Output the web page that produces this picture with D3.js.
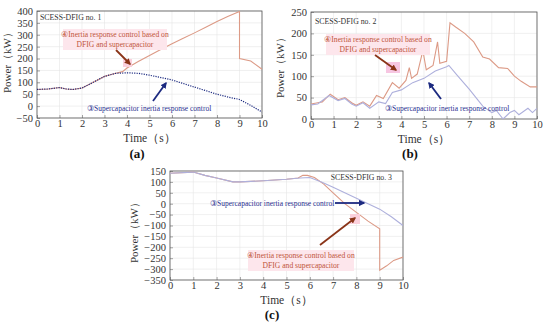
<!DOCTYPE html>
<html><head><meta charset="utf-8">
<script src="https://cdn.jsdelivr.net/npm/d3@7"></script>
<style>body{margin:0;background:#fff}svg{display:block}svg text{font-family:"Liberation Serif","Times New Roman","DejaVu Serif",serif}</style>
</head><body>
<svg id="c" width="550" height="326"></svg>
<script>
// ---------- DATA ----------
const timeTicks = [0,1,2,3,4,5,6,7,8,9,10];
const yTicksA = [-50,0,50,100,150,200,250,300,350,400];
const yTicksB = [0,50,100,150,200,250];
const yTicksC = [-350,-300,-250,-200,-150,-100,-50,0,50,100,150];

// (a) SCESS-DFIG no.1
const aSupT = [0,0.5,1,1.3,1.6,2,2.5,3,3.5,4,4.5,5,5.5,6,6.5,7,7.5,8,8.5,9,9.5,10];
const aSupP = [70,72,78,72,70,76,100,125,138,140,138,130,120,110,95,80,65,50,38,28,3,-25];
const aCombT = [0,0.5,1,1.3,1.6,2,2.5,3,3.5,3.8,4,4.5,5,5.5,6,6.5,7,7.5,8,8.5,9,9.001,9.5,10];
const aCombP = [70,72,78,72,70,76,100,125,138,145,160,188,213,238,262,285,308,332,356,378,398,200,190,155];

// (b) SCESS-DFIG no.2
const bSupT = [0,0.3,0.8,1.2,1.5,1.8,2,2.3,2.6,3,3.3,3.6,4,4.5,5,5.5,6,6.1,6.5,7,7.3,7.6,8,8.2,8.5,8.8,9,9.2,9.6,9.8,10];
const bSupP = [33,35,55,43,48,35,30,38,25,40,36,62,68,85,95,112,122,125,100,70,50,30,15,20,0,15,20,10,25,15,25];
const bCombT = [0,0.3,0.5,0.85,1.2,1.5,1.8,2,2.3,2.6,2.9,3.2,3.6,3.9,4.2,4.35,4.45,4.7,4.95,5.1,5.4,5.6,5.7,6.0,6.15,6.4,6.8,7.2,7.6,7.9,8.3,8.7,9.0,9.3,9.7,10];
const bCombP = [35,38,40,58,45,50,38,32,40,30,55,48,85,72,90,120,95,105,160,115,125,180,130,135,225,215,200,180,145,140,120,118,100,88,75,75];

// (c) SCESS-DFIG no.3
const cSupT = [0,1,1.5,2,2.7,3,4,5,5.6,6,6.5,7,7.5,8,8.5,9,9.5,10];
const cSupP = [140,145,130,118,100,100,105,112,118,120,100,75,50,25,0,-25,-60,-100];
const cCombT = [0,1,1.5,2,2.7,3,4,5,5.5,5.7,5.9,6.2,6.6,7,7.5,8,8.5,9,9.001,9.3,9.6,10];
const cCombP = [140,145,130,118,100,100,105,112,118,130,130,120,90,50,0,-40,-80,-115,-305,-285,-260,-245];

// ---------- DRAW ----------
const svg = d3.select("#c");
const orange = "#dc9a86";
const navy = "#1c2a80";
const lav = "#aeb0dc";

function zip(t,p){ return t.map((d,i)=>[d,p[i]]); }

function panel(o){
  const x = d3.scaleLinear().domain([0,10]).range([o.x0,o.x1]);
  const y = d3.scaleLinear().domain(o.yd).range([o.y1,o.y0]);
  const g = svg.append("g");
  g.append("g").selectAll("line").data(timeTicks).join("line")
    .attr("x1",d=>x(d)).attr("x2",d=>x(d)).attr("y1",o.y0).attr("y2",o.y1)
    .attr("stroke","#e6e6e6").attr("stroke-width",0.6);
  g.append("g").selectAll("line").data(o.yt).join("line")
    .attr("y1",d=>y(d)).attr("y2",d=>y(d)).attr("x1",o.x0).attr("x2",o.x1)
    .attr("stroke","#e6e6e6").attr("stroke-width",0.6);
  const ax = g.append("g").attr("transform",`translate(0,${o.y1})`)
    .call(d3.axisBottom(x).tickValues(timeTicks).tickSize(-3).tickPadding(2).tickFormat(d3.format("d")));
  const ay = g.append("g").attr("transform",`translate(${o.x0},0)`)
    .call(d3.axisLeft(y).tickValues(o.yt).tickSize(-3).tickPadding(4).tickFormat(d=>d<0?"\u2212"+(-d):d));
  [ax,ay].forEach(a=>{
    a.attr("font-family",null);
    a.selectAll("text").attr("font-size",10.5).attr("fill","#333");
    a.selectAll("line").attr("stroke","#666").attr("stroke-width",0.6);
    a.select(".domain").remove();
  });
  g.append("rect").attr("x",o.x0).attr("y",o.y0).attr("width",o.x1-o.x0).attr("height",o.y1-o.y0)
    .attr("fill","none").attr("stroke","#555").attr("stroke-width",0.8);
  const line = d3.line().x(d=>x(d[0])).y(d=>y(d[1]));
  const clip = "clip"+o.id;
  g.append("clipPath").attr("id",clip).append("rect")
    .attr("x",o.x0).attr("y",o.y0).attr("width",o.x1-o.x0).attr("height",o.y1-o.y0);
  const lg = g.append("g").attr("clip-path",`url(#${clip})`);
  o.series.forEach(s=>{
    lg.append("path").datum(zip(s.t,s.p)).attr("d",line).attr("fill","none")
      .attr("stroke",s.c).attr("stroke-width",s.w||1.1).attr("stroke-dasharray",s.dash||null);
  });
  g.append("text").attr("x",(o.x0+o.x1)/2).attr("y",o.y1+24).attr("text-anchor","middle")
    .attr("font-size",11.5).attr("fill","#333").text("Time（s）");
  g.append("text").attr("transform",`translate(${o.px},${o.py}) rotate(-90)`).attr("text-anchor","middle")
    .attr("font-size",11).attr("fill","#333").text("Power（kW）");
  g.append("text").attr("x",o.lx).attr("y",o.ly).attr("text-anchor","middle")
    .attr("font-size",13).attr("font-weight","bold").attr("fill","#111").text(o.label);
  g.append("text").attr("x",o.nx).attr("y",o.ny).attr("font-size",7.8)
    .attr("fill","#333").attr("text-anchor",o.na||"start").text(o.title);
  return g;
}

svg.append("defs").html(`
<marker id="ab" viewBox="0 0 10 10" refX="8" refY="5" markerWidth="3.5" markerHeight="3.5" orient="auto"><path d="M0,0L10,5L0,10z" fill="${navy}"/></marker>
<marker id="ar" viewBox="0 0 10 10" refX="8" refY="5" markerWidth="3.5" markerHeight="3.5" orient="auto"><path d="M0,0L10,5L0,10z" fill="#8a3418"/></marker>`);

function note4(g,cx,y1,y2,hx,hy,hw){
  g.append("rect").attr("x",hx).attr("y",hy).attr("width",hw).attr("height",21).attr("fill","#fde6ec");
  g.append("text").attr("x",cx).attr("y",y1).attr("text-anchor","middle")
    .attr("font-size",7.6).attr("fill","#c0553a").text("④Inertia response control based on");
  g.append("text").attr("x",cx).attr("y",y2).attr("text-anchor","middle")
    .attr("font-size",7.6).attr("fill","#c0553a").text("DFIG and supercapacitor");
}
function note3(g,x,y){
  g.append("text").attr("x",x).attr("y",y)
    .attr("font-size",7.5).attr("fill","#2a2f8f").text("③Supercapacitor inertia response control");
}
function arrow(g,x1,y1,x2,y2,m,c){
  g.append("line").attr("x1",x1).attr("y1",y1).attr("x2",x2).attr("y2",y2)
    .attr("stroke",c).attr("stroke-width",1.8).attr("marker-end",`url(#${m})`);
}

// (a)
const ga = panel({id:"a",x0:37,x1:262,y0:11,y1:118,yd:[-50,400],yt:yTicksA,
  series:[{t:aCombT,p:aCombP,c:orange},{t:aSupT,p:aSupP,c:navy,dash:"1.2,1.2",w:1.2}],
  px:11,py:60,lx:137,ly:158,label:"(a)",nx:40,ny:20,title:"SCESS-DFIG no. 1"});
note4(ga,115,37,47,63,29,104);
ga.append("rect").attr("x",123).attr("y",59).attr("width",9).attr("height",8).attr("fill","#fbd0dc");
arrow(ga,116,50,130,64,"ar","#8a3418");
note3(ga,87,111);
arrow(ga,153,101,166,83,"ab",navy);

// (b)
const gb = panel({id:"b",x0:311,x1:537,y0:12,y1:119,yd:[0,250],yt:yTicksB,
  series:[{t:bCombT,p:bCombP,c:orange},{t:bSupT,p:bSupP,c:lav}],
  px:284,py:65,lx:410,ly:158,label:"(b)",nx:315,ny:24,title:"SCESS-DFIG no. 2"});
note4(gb,378,42,52,326,34,104);
gb.append("rect").attr("x",386).attr("y",62).attr("width",14).attr("height",11).attr("fill","#f7c6e2");
arrow(gb,375,55,396,70,"ar","#8a3418");
note3(gb,385,111);
arrow(gb,441,99,429,83,"ab",navy);

// (c)
const gc = panel({id:"c",x0:170,x1:403,y0:171,y1:280,yd:[-350,150],yt:yTicksC,
  series:[{t:cCombT,p:cCombP,c:orange},{t:cSupT,p:cSupP,c:lav}],
  px:138,py:230,lx:272,ly:319,label:"(c)",nx:392,ny:180,na:"end",title:"SCESS-DFIG no. 3"});
note3(gc,210,206);
arrow(gc,335,203,364,203,"ab",navy);
note4(gc,301,258,268,248,250,106);
gc.append("rect").attr("x",350).attr("y",214).attr("width",10).attr("height",10).attr("fill","#fbd0dc");
arrow(gc,320,245,355,218,"ar","#8a3418");
</script>
</body></html>
